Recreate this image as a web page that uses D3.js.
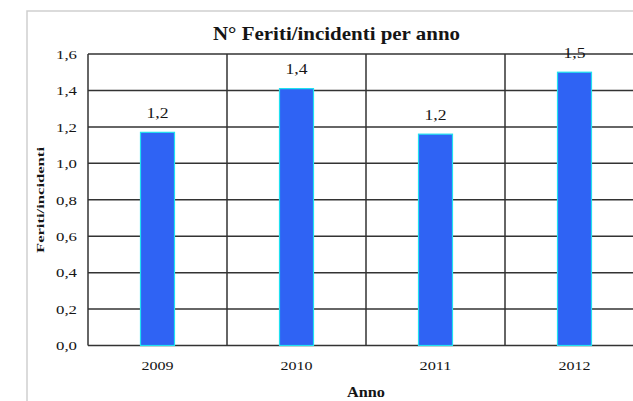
<!DOCTYPE html>
<html>
<head>
<meta charset="utf-8">
<script src="https://cdn.jsdelivr.net/npm/d3@7"></script>
<style>
  html, body { margin: 0; padding: 0; background: #fff; }
  svg { display: block; }
  text { font-family: "Liberation Serif", "Times New Roman", serif; fill: #151515; }
</style>
</head>
<body>
<script>
// Injured per accident, by year
const years = ["2009", "2010", "2011", "2012"];
const feritiPerIncidente = [1.17, 1.41, 1.16, 1.50];
const yTicks = [0, 0.2, 0.4, 0.6, 0.8, 1.0, 1.2, 1.4, 1.6];
const chartTitle = "N° Feriti/incidenti per anno";
const xTitle = "Anno";
const yTitle = "Feriti/incidenti";

const W = 633, H = 401;
const plot = { left: 88, right: 644, top: 54, bottom: 345.5 };

const svg = d3.select("body").append("svg")
  .attr("width", W).attr("height", H);

const fmt = v => d3.format(".1f")(v).replace(".", ",");

// outer chart frame (left and top edges visible)
svg.append("path")
  .attr("d", `M27,${H} L27,11 L${W},11`)
  .attr("fill", "none")
  .attr("stroke", "#cfcfcf")
  .attr("stroke-width", 1.5);

const x = d3.scaleBand().domain(years).range([plot.left, plot.right]).paddingInner(0).paddingOuter(0);
const y = d3.scaleLinear().domain([0, 1.6]).range([plot.bottom, plot.top]);

const grid = svg.append("g");
// horizontal grid lines
grid.selectAll("line.h").data(yTicks).join("line")
  .attr("class", "h")
  .attr("x1", plot.left).attr("x2", plot.right)
  .attr("y1", d => y(d)).attr("y2", d => y(d))
  .attr("stroke", "#333").attr("stroke-width", 1.5);
// vertical category dividers
const dividers = years.map(d => x(d)).concat([plot.right]);
grid.selectAll("line.v").data(dividers).join("line")
  .attr("class", "v")
  .attr("x1", d => d).attr("x2", d => d)
  .attr("y1", plot.top).attr("y2", plot.bottom)
  .attr("stroke", "#333").attr("stroke-width", 1.5);

// bars
const barW = 34;
svg.append("g").selectAll("rect").data(years).join("rect")
  .attr("x", d => x(d) + x.bandwidth() / 2 - barW / 2)
  .attr("width", barW)
  .attr("y", (d, i) => y(feritiPerIncidente[i]))
  .attr("height", (d, i) => y(0) - y(feritiPerIncidente[i]))
  .attr("fill", "#2f63f4")
  .attr("stroke", "#1fe0f0")
  .attr("stroke-width", 1.2);

// value labels
svg.append("g").selectAll("text").data(years).join("text")
  .attr("x", d => x(d) + x.bandwidth() / 2)
  .attr("y", (d, i) => y(feritiPerIncidente[i]) - 14.5)
  .attr("text-anchor", "middle")
  .attr("font-size", 14)
  .attr("textLength", 22).attr("lengthAdjust", "spacingAndGlyphs")
  .text((d, i) => fmt(feritiPerIncidente[i]));

// y axis
const yAxis = d3.axisLeft(y).tickValues(yTicks).tickFormat(fmt).tickSize(0).tickPadding(11);
const ya = svg.append("g").attr("transform", `translate(${plot.left},0)`).call(yAxis);
ya.select(".domain").remove();
ya.selectAll("text")
  .attr("font-size", 13.5).attr("font-family", "Liberation Serif, serif").attr("fill", "#151515")
  .attr("textLength", 21).attr("lengthAdjust", "spacingAndGlyphs");

// x axis
const xAxis = d3.axisBottom(x).tickSize(0).tickPadding(15);
const xa = svg.append("g").attr("transform", `translate(0,${plot.bottom})`).call(xAxis);
xa.select(".domain").remove();
xa.selectAll("text")
  .attr("font-size", 13.5).attr("font-family", "Liberation Serif, serif").attr("fill", "#151515")
  .attr("textLength", 32).attr("lengthAdjust", "spacingAndGlyphs");

// titles
svg.append("text")
  .attr("x", 336.5).attr("y", 40)
  .attr("text-anchor", "middle")
  .attr("font-size", 19).attr("font-weight", "bold")
  .attr("textLength", 247).attr("lengthAdjust", "spacingAndGlyphs")
  .text(chartTitle);

svg.append("text")
  .attr("x", 366).attr("y", 397)
  .attr("text-anchor", "middle")
  .attr("font-size", 14).attr("font-weight", "bold")
  .attr("textLength", 38).attr("lengthAdjust", "spacingAndGlyphs")
  .text(xTitle);

svg.append("text")
  .attr("transform", "translate(44,200) rotate(-90)")
  .attr("text-anchor", "middle")
  .attr("font-size", 10.5).attr("font-weight", "bold")
  .attr("textLength", 106).attr("lengthAdjust", "spacingAndGlyphs")
  .text(yTitle);
</script>
</body>
</html>
